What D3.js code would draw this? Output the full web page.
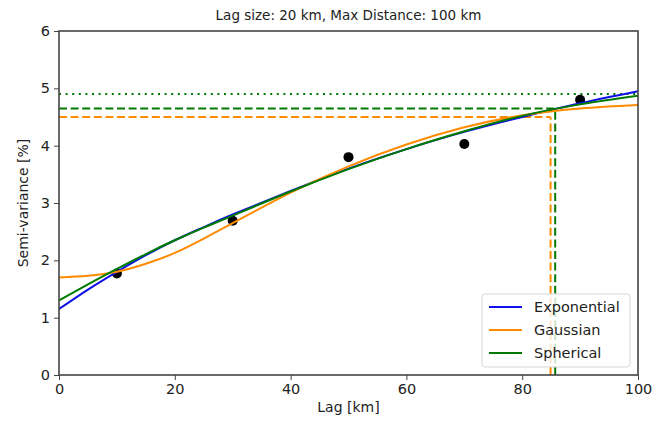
<!DOCTYPE html>
<html lang="en">
<head>
<meta charset="utf-8">
<title>Semi-variogram</title>
<script src="https://cdn.jsdelivr.net/npm/d3@7"></script>
<style>
    body { margin: 0; background: #fff; }
    svg { font-family: 'DejaVu Sans', sans-serif; }
</style>
</head>
<body>
<svg></svg>
<script>
    // observed semi-variance per lag bin
    const lagCenters = [10, 30, 50, 70, 90];
    const semiVar = [1.77, 2.69, 3.80, 4.03, 4.80];

    // fitted models
    const modelLags = [0, 5, 10, 15, 20, 25, 30, 40, 50, 60, 70, 80, 90, 100];
    const exponential = [1.15, 1.49, 1.80, 2.09, 2.35, 2.58, 2.80, 3.21, 3.60, 3.94, 4.24, 4.50, 4.74, 4.95];
    const gaussian = [1.70, 1.73, 1.80, 1.94, 2.13, 2.38, 2.65, 3.18, 3.64, 4.02, 4.32, 4.53, 4.65, 4.71];
    const spherical = [1.30, 1.58, 1.85, 2.11, 2.35, 2.57, 2.78, 3.20, 3.59, 3.94, 4.25, 4.52, 4.72, 4.87];

    // effective range / sill markers
    const sillDotted = 4.90;
    const gaussSill = 4.50, gaussRange = 84.9;
    const spherSill = 4.65, spherRange = 85.7;

    const xTicks = [0, 20, 40, 60, 80, 100];
    const yTicks = [0, 1, 2, 3, 4, 5, 6];

    const W = 664, H = 425;
    const m = { left: 59, right: 26, top: 31, bottom: 50 };
    const col = { exp: '#1010e8', gau: '#ff8c00', sph: '#007a00' };

    const svg = d3.select('svg').attr('width', W).attr('height', H);

    const x = d3.scaleLinear().domain([0, 100]).range([m.left, W - m.right]);
    const y = d3.scaleLinear().domain([0, 6]).range([H - m.bottom, m.top]);

    svg.append('clipPath').attr('id', 'plot-clip')
        .append('rect')
        .attr('x', x(0)).attr('y', y(6))
        .attr('width', x(100) - x(0)).attr('height', y(0) - y(6));

    const plot = svg.append('g').attr('clip-path', 'url(#plot-clip)');

    // reference lines
    function hline(v, x0, x1, color, dash) {
        plot.append('line')
            .attr('x1', x(x0)).attr('x2', x(x1))
            .attr('y1', y(v)).attr('y2', y(v))
            .attr('stroke', color).attr('stroke-width', 2)
            .attr('stroke-dasharray', dash);
    }
    function vline(v, y0, y1, color, dash) {
        plot.append('line')
            .attr('x1', x(v)).attr('x2', x(v))
            .attr('y1', y(y0)).attr('y2', y(y1))
            .attr('stroke', color).attr('stroke-width', 2)
            .attr('stroke-dasharray', dash);
    }
    hline(sillDotted, 0, 100, col.sph, '2,4.6');
    hline(spherSill, 0, spherRange, col.sph, '8,3.6');
    hline(gaussSill, 0, gaussRange, col.gau, '8,3.6');
    vline(gaussRange, 0, gaussSill, col.gau, '8,3.6');
    vline(spherRange, 0, spherSill, col.sph, '8,3.6');

    // scatter
    plot.selectAll('circle.obs')
        .data(lagCenters)
        .enter()
        .append('circle')
        .attr('class', 'obs')
        .attr('cx', d => x(d))
        .attr('cy', (d, i) => y(semiVar[i]))
        .attr('r', 5)
        .attr('fill', '#000');

    // model curves
    const line = d3.line()
        .x((d, i) => x(modelLags[i]))
        .y(d => y(d))
        .curve(d3.curveNatural);

    const series = [
        { name: 'Exponential', vals: exponential, color: col.exp },
        { name: 'Gaussian', vals: gaussian, color: col.gau },
        { name: 'Spherical', vals: spherical, color: col.sph }
    ];

    series.forEach(s => {
        plot.append('path')
            .datum(s.vals)
            .attr('d', line)
            .attr('fill', 'none')
            .attr('stroke', s.color)
            .attr('stroke-width', 2);
    });

    // axes
    const xAxis = svg.append('g')
        .attr('transform', `translate(0,${y(0)})`)
        .call(d3.axisBottom(x).tickValues(xTicks).tickFormat(d3.format('d')).tickSize(5).tickPadding(4));
    const yAxis = svg.append('g')
        .attr('transform', `translate(${x(0)},0)`)
        .call(d3.axisLeft(y).tickValues(yTicks).tickFormat(d3.format('d')).tickSize(5).tickPadding(4));

    [xAxis, yAxis].forEach(a => {
        a.selectAll('text').attr('fill', '#222').style('font-size', '14.5px').style('font-family', 'DejaVu Sans');
        a.selectAll('line').attr('stroke', '#444');
        a.select('.domain').remove();
    });

    // frame
    svg.append('rect')
        .attr('x', x(0)).attr('y', y(6))
        .attr('width', x(100) - x(0)).attr('height', y(0) - y(6))
        .attr('fill', 'none')
        .attr('stroke', '#444')
        .attr('stroke-width', 1.6);

    // titles
    svg.append('text')
        .attr('x', (x(0) + x(100)) / 2).attr('y', 20)
        .attr('text-anchor', 'middle')
        .attr('fill', '#222')
        .style('font-size', '13.5px')
        .text('Lag size: 20 km, Max Distance: 100 km');

    svg.append('text')
        .attr('x', (x(0) + x(100)) / 2).attr('y', 412)
        .attr('text-anchor', 'middle')
        .attr('fill', '#222')
        .style('font-size', '14px')
        .text('Lag [km]');

    svg.append('text')
        .attr('transform', `translate(28,${(y(0) + y(6)) / 2})rotate(-90)`)
        .attr('text-anchor', 'middle')
        .attr('fill', '#222')
        .style('font-size', '14px')
        .text('Semi-variance [%]');

    // legend
    const lg = svg.append('g').attr('transform', 'translate(482,294)');
    lg.append('rect')
        .attr('width', 148).attr('height', 73)
        .attr('rx', 3)
        .attr('fill', '#fff').attr('fill-opacity', 0.8)
        .attr('stroke', '#d6d6d6');
    series.forEach((s, i) => {
        const row = lg.append('g').attr('transform', `translate(0,${13 + i * 23})`);
        row.append('line')
            .attr('x1', 7).attr('x2', 40)
            .attr('stroke', s.color).attr('stroke-width', 2);
        row.append('text')
            .attr('x', 52).attr('y', 5)
            .attr('fill', '#222')
            .style('font-size', '14.5px')
            .text(s.name);
    });
</script>
</body>
</html>
